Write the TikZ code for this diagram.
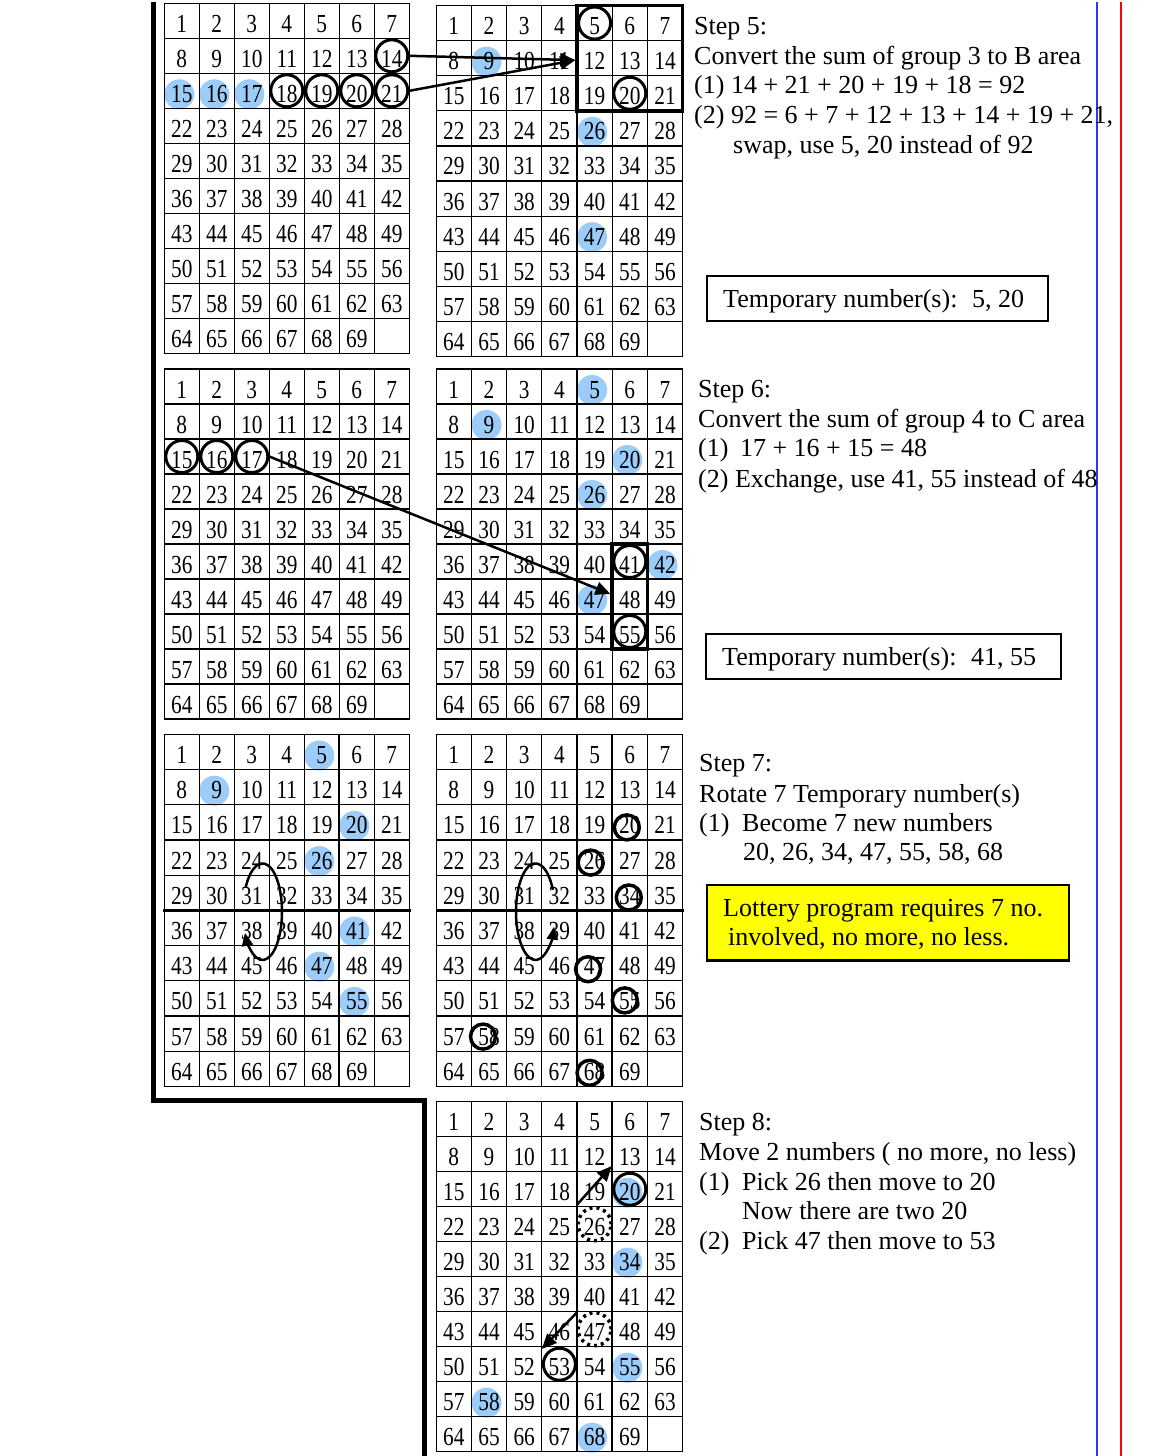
\documentclass[tikz,border=0pt]{standalone}
\usepackage{fontspec}
\setmainfont{Liberation Serif}
\newfontfamily\gridfont[FakeStretch=0.82]{Liberation Serif}
\usetikzlibrary{arrows.meta,fit}
\pgfdeclarelayer{back}
\pgfdeclarelayer{bg}
\pgfsetlayers{back,bg,main}
\definecolor{discblue}{RGB}{155,204,250}
\definecolor{lineblue}{RGB}{50,50,255}
\definecolor{boxyellow}{RGB}{255,255,0}
\tikzset{
  gridline/.style={line width=1.2pt, black},
  num/.style={anchor=base, inner sep=0pt, font=\gridfont\fontsize{26}{26}\selectfont},
  ring/.style={circle, draw, line width=3pt, minimum size=32pt, inner sep=0pt},
  smallring/.style={circle, draw, line width=3.5pt, minimum size=25pt, inner sep=0pt},
  dotring/.style={circle, draw, line width=3.5pt, minimum size=33pt, inner sep=0pt, dash pattern=on 3pt off 4pt},
  disc/.style={circle, fill=discblue, minimum size=30pt, inner sep=0pt},
  txt/.style={anchor=base west, inner sep=0pt, font=\fontsize{26}{30}\selectfont},
  arr/.style={line width=2.5pt, -{Triangle[length=15pt,width=13pt]}},
  earr/.style={line width=2.5pt, -{Triangle[length=13pt,width=11pt]}},
  thickbox/.style={draw, line width=3.5pt, inner sep=0pt},
  tbox/.style={draw, line width=2pt, anchor=north west, outer sep=0pt, inner sep=0pt},
}
\newcommand\mygrid[5]{%
  \foreach \i in {0,...,7} \draw[gridline] ({#2+\i*#4},#3) -- ({#2+\i*#4},{#3+10*#5});
  \foreach \j in {0,...,10} \draw[gridline] ({#2-0.6},{#3+\j*#5}) -- ({#2+7*#4+0.6},{#3+\j*#5});
  \foreach \n in {1,...,69} {
    \pgfmathtruncatemacro\gr{(\n-1)/7}
    \pgfmathtruncatemacro\gc{\n-1-7*\gr}
    \coordinate (#1c\n) at ({#2+(\gc+0.5)*#4},{#3+(\gr+0.5)*#5});
    \node[num] (#1-\n) at ([shift={(0,11.5)}]#1c\n) {\n};
  }
}
\newcommand\mydiscs[2]{%
  \begin{pgfonlayer}{bg}
  \foreach \n in {#2} \node[disc] (#1d\n) at ([shift={(-2.5,3.5)}]#1c\n) {};
  \end{pgfonlayer}}
\newcommand\myrings[2]{\foreach \n in {#2} \node[ring] (#1r\n) at (#1c\n) {};}
\begin{document}
\begin{tikzpicture}[x=1pt,y=-1pt]
\useasboundingbox (0,0) rectangle (1156,1456);
\begin{pgfonlayer}{back}
\fill[white] (0,0) rectangle (1156,1456);
\end{pgfonlayer}

% grids
\mygrid{G1L}{164.3}{3.3}{35}{35}
\mygrid{G1R}{436.2}{5.5}{35.2}{35.1}
\mygrid{G2L}{164.3}{369}{35}{35}
\mygrid{G2R}{436.2}{369}{35.2}{35}
\mygrid{G3L}{164.3}{734.4}{35}{35.2}
\mygrid{G3R}{436.2}{734.4}{35.2}{35.2}
\mygrid{G4}{436.2}{1101.7}{35.2}{35}

% extra heavy lines in step 7 grids
\draw[line width=3pt] (163,910.4) -- (410.5,910.4);
\draw[line width=3pt] (435.5,910.4) -- (684,910.4);
\draw[line width=2.2pt] (339.3,734.4) -- (339.3,1086.4);
\draw[line width=2.2pt] (612.2,734.4) -- (612.2,1086.4);
\draw[line width=2pt] (577,1101.7) -- (577,1451.7);
\draw[line width=2pt] (612.2,1101.7) -- (612.2,1451.7);

% blue discs
\mydiscs{G1L}{15,16,17}
\mydiscs{G1R}{9,26,47}
\mydiscs{G2R}{5,9,20,26,42,47}
\mydiscs{G3L}{5,9,20,26,41,47,55}
\mydiscs{G4}{20,34,55,58,68}

% rings
\myrings{G1L}{14,18,19,20,21}
\myrings{G1R}{5,20}
\myrings{G2L}{15,16,17}
\myrings{G2R}{41,55}
\myrings{G4}{20,53}
\foreach \n/\dx/\dy in {20/-3/5,26/-4/5,34/-1/4.7,47/-6.5/6,55/-5/2,58/-6/3,68/-5/4}
  \node[smallring] (G3Rr\n) at ([shift={(\dx,\dy)}]G3Rc\n) {};
\node[dotring] (G4o26) at (G4c26) {};
\node[dotring] (G4o47) at (G4c47) {};

% boxes
\node[thickbox, fit=(G1Rc5)(G1Rc21), inner xsep=17.6pt, inner ysep=17.55pt] (boxB) {};
\node[thickbox, fit=(G2Rc41)(G2Rc55), inner xsep=17.6pt, inner ysep=17.5pt] (boxC) {};

% arrows
\coordinate (tipB) at ([yshift=-2pt]boxB.west);
\draw[arr] (G1Lr14.east) -- (tipB);
\draw[arr] (G1Lr21.east) -- (tipB);
\coordinate (tipC) at ([yshift=2.5pt]boxC.west);
\draw[arr] (G2Lr17.east) -- (tipC);
\coordinate (a1s) at (576.7,1205);
\coordinate (a1e) at (611.7,1166);
\draw[arr] (a1s) -- (a1e);
\coordinate (a2s) at (576.7,1312.7);
\coordinate (a2e) at (541.7,1349);
\draw[arr] (a2s) -- (a2e);

% rotation ellipses
\coordinate (e1c) at (262.5,911.7);
\draw[earr] ([shift={(210:19.5 and 48.3)}]e1c) arc[start angle=210, end angle=514, x radius=19.5, y radius=48.3];
\coordinate (e2c) at (535.5,911.7);
\draw[earr] ([shift={(333:19.5 and 48.3)}]e2c) arc[start angle=333, end angle=18, x radius=19.5, y radius=48.3];

% frame lines
\draw[line width=4.5pt, line join=miter] (153.5,2.3) -- (153.5,1100.5) -- (424.5,1100.5) -- (424.5,1456);
\draw[lineblue, line width=2pt] (1097,2) -- (1097,1456);
\draw[red, line width=2pt] (1121,2) -- (1121,1456);

% step 5
\node[txt] (s5a) at (694,34.3) {Step 5:};
\node[txt] (s5b) at (694,64) {Convert the sum of group 3 to B area};
\node[txt] (s5c) at (694,93.5) {(1) 14 + 21 + 20 + 19 + 18 = 92};
\node[txt] (s5d) at (694,123.3) {(2) 92 = 6 + 7 + 12 + 13 + 14 + 19 + 21,};
\node[txt] (s5e) at (733,153.3) {swap, use 5, 20 instead of 92};
\node[tbox, minimum width=341pt, minimum height=45pt] (tmp1) at (707,276) {};
\node[txt] (tmp1t) at (723,307) {Temporary number(s):\hspace{6pt} 5, 20};

% step 6
\node[txt] (s6a) at (698,397.5) {Step 6:};
\node[txt] (s6b) at (698,427.5) {Convert the sum of group 4 to C area};
\node[txt] (s6c) at (698,456.8) {(1)\hspace{5pt} 17 + 16 + 15 = 48};
\node[txt] (s6d) at (698,487) {(2) Exchange, use 41, 55 instead of 48};
\node[tbox, minimum width=355pt, minimum height=45pt] (tmp2) at (706,634) {};
\node[txt] (tmp2t) at (722,665) {Temporary number(s):\hspace{6pt} 41, 55};

% step 7
\node[txt] (s7a) at (699,771.7) {Step 7:};
\node[txt] (s7b) at (699,802.7) {Rotate 7 Temporary number(s)};
\node[txt] (s7c) at (699,831.7) {(1)};
\node[txt] (s7d) at (742,831.7) {Become 7 new numbers};
\node[txt] (s7e) at (743,860.7) {20, 26, 34, 47, 55, 58, 68};
\node[tbox, fill=boxyellow, line width=2.5pt, minimum width=362pt, minimum height=75.7pt] (ybox) at (707,885) {};
\node[txt] (y1) at (723,916.7) {Lottery program requires 7 no.};
\node[txt] (y2) at (728,945) {involved, no more, no less.};

% step 8
\node[txt] (s8a) at (699,1130.5) {Step 8:};
\node[txt] (s8b) at (699,1160.3) {Move 2 numbers ( no more, no less)};
\node[txt] (s8c) at (699,1190) {(1)};
\node[txt] (s8d) at (742,1190) {Pick 26 then move to 20};
\node[txt] (s8e) at (742,1219.8) {Now there are two 20};
\node[txt] (s8f) at (699,1249.5) {(2)};
\node[txt] (s8g) at (742,1249.5) {Pick 47 then move to 53};
\end{tikzpicture}
\end{document}
